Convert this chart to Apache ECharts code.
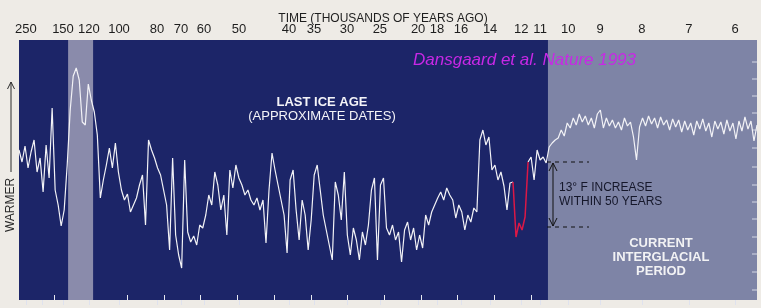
<!DOCTYPE html>
<html><head><meta charset="utf-8">
<script src="https://cdn.jsdelivr.net/npm/echarts@6/dist/echarts.min.js"></script>
<style>html,body{margin:0;padding:0;background:#eeebe6;}#c{width:761px;height:308px;}</style>
</head><body><div id="c"></div>
<script>
// relative warmth index along the ice core (one sample per core segment)
const warmth = [
150,138,154,132,148,160,128,142,108,155,122,192,
110,95,74,90,135,190,224,232,220,178,175,216,
200,188,165,102,120,135,152,132,157,128,110,100,
106,88,95,102,115,125,75,160,150,142,132,125,
110,95,50,142,65,45,32,140,68,58,64,55,
75,72,85,105,95,128,115,90,105,65,130,112,
135,122,115,105,110,100,95,102,90,100,57,110,
147,130,115,100,85,47,120,130,90,60,100,85,
50,80,125,135,110,85,70,55,40,118,105,80,
128,65,45,72,60,40,68,55,75,110,122,40,
115,122,72,65,75,60,68,38,70,78,60,72,
50,65,52,85,75,88,95,102,108,100,112,105,
100,82,95,88,70,85,78,92,88,160,170,155,
163,130,135,120,128,114,90,117,118,63,77,70,
83,138,143,120,150,140,143,137,153,157,160,162,
170,164,177,172,182,175,186,178,184,175,182,172,
186,190,172,182,174,180,172,178,170,182,174,178,
163,140,173,182,174,184,176,182,172,183,175,180,
170,181,173,180,168,179,170,177,165,179,171,181,
169,177,163,179,171,178,166,180,169,177,161,179,
169,183,171,179,159,175
];
// abrupt warming segment (highlighted in red): first and last sample index
const abruptSegment = [164, 169];
// time tick labels (thousands of years ago) and the core sample where each falls
const tickAges = ['250','','150','120','100','80','70','60','50','40','35','30','25','20','18','16','14','12','11','10','9','8','7','6'];
const tickAt = [2.3,7.6,14.6,23.2,33.2,45.8,53.8,61.4,73.0,89.6,97.9,108.9,119.8,132.5,138.8,146.7,156.4,166.7,173.0,182.3,192.9,206.8,222.4,237.7];
// periods in core sample units
const eemianBand = [16.3, 24.6];
const holoceneStart = 175.6;
// warmth levels of the right-hand scale ticks
const rightTicks = [10, 28, 46, 63, 81, 98, 115, 133, 152, 170, 187, 204, 221, 238];

const N = warmth.length;
const FONT = '"Liberation Sans", Arial, Helvetica, sans-serif';
const labelMap = {};
tickAt.forEach((v, i) => { labelMap[v] = tickAges[i]; });
const bottomTicks = [];
for (let k = 0; k < 19; k++) bottomTicks.push(11.6 + k * 12.18);

const whiteData = warmth.map((v, i) => (i > abruptSegment[0] && i < abruptSegment[1]) ? [i, '-'] : [i, v]);
const redData = [];
for (let i = abruptSegment[0]; i <= abruptSegment[1]; i++) redData.push([i, warmth[i]]);

function txt(x, y, text, font, fill, align, extra) {
  return Object.assign({type: 'text', x: x, y: y, z: 100, zlevel: 3,
    style: {text: text, font: font, fill: fill, textAlign: align || 'center', textVerticalAlign: 'middle'}}, extra || {});
}
const ink = '#2a2a2a';
const paper = '#eeebe6';
const chart = echarts.init(document.getElementById('c'), null, {renderer: 'canvas'});
chart.setOption({
  animation: false,
  backgroundColor: paper,
  grid: {left: 19, right: 4, top: 40, bottom: 8, show: true, backgroundColor: '#1c2568', borderWidth: 0},
  xAxis: [
    {type: 'value', position: 'top', min: 0, max: N - 1,
     axisLine: {show: false}, splitLine: {show: false},
     axisTick: {show: true, inside: true, length: 5, customValues: tickAt, lineStyle: {color: '#dfe2ee', width: 1}},
     axisLabel: {show: true, customValues: tickAt, margin: 4, color: '#1e1e1e', fontSize: 13, fontFamily: FONT,
       formatter: (v) => labelMap[v] !== undefined ? labelMap[v] : ''}},
    {type: 'value', position: 'bottom', min: 0, max: N - 1,
     axisLine: {show: false}, splitLine: {show: false}, axisLabel: {show: false},
     axisTick: {show: true, inside: true, length: 5, customValues: bottomTicks, lineStyle: {color: '#e6e8f0', width: 1}}}
  ],
  yAxis: [
    {type: 'value', min: 0, max: 260, show: false,
     axisLine: {show: false}, splitLine: {show: false}, axisLabel: {show: false}, axisTick: {show: false}}
  ],
  series: [
    {type: 'line', xAxisIndex: 0, yAxisIndex: 0, data: [], z: 1, silent: true,
     markArea: {silent: true, data: [
       [{xAxis: eemianBand[0], itemStyle: {color: '#8a8bab'}}, {xAxis: eemianBand[1]}],
       [{xAxis: holoceneStart, itemStyle: {color: '#7e84a6'}}, {xAxis: N - 1}]
     ]}},
    {type: 'custom', xAxisIndex: 0, yAxisIndex: 0, z: 4, silent: true,
     data: rightTicks.map(v => [N - 1, v]),
     renderItem: (params, api) => {
       const p = api.coord([api.value(0), api.value(1)]);
       return {type: 'line', shape: {x1: p[0] - 5, y1: p[1], x2: p[0], y2: p[1]}, style: {stroke: '#d4d7e4', lineWidth: 1}};
     }},
    {type: 'line', xAxisIndex: 0, yAxisIndex: 0, data: whiteData, z: 5, showSymbol: false, connectNulls: false,
     lineStyle: {color: '#f2f2f6', width: 1.2}},
    {type: 'line', xAxisIndex: 0, yAxisIndex: 0, data: redData, z: 6, showSymbol: false,
     lineStyle: {color: '#dc1846', width: 1.5}}
  ],
  graphic: [
    {type: 'rect', z: 0, zlevel: 2, silent: true, shape: {x: 0, y: 36, width: 19, height: 272}, style: {fill: paper}},
    txt(383, 18.5, 'TIME (THOUSANDS OF YEARS AGO)', '12px ' + FONT, '#1e1e1e'),
    txt(413, 60, 'Dansgaard et al. Nature 1993', 'italic 17px ' + FONT, '#c828e6', 'left'),
    txt(322, 102, 'LAST ICE AGE', 'bold 13px ' + FONT, '#f4f4f8'),
    txt(322, 116, '(APPROXIMATE DATES)', '13px ' + FONT, '#f4f4f8'),
    txt(559, 188, '13° F INCREASE', '12px ' + FONT, '#15172a', 'left'),
    txt(559, 202, 'WITHIN 50 YEARS', '12px ' + FONT, '#15172a', 'left'),
    txt(661, 243, 'CURRENT', 'bold 13px ' + FONT, '#f2f2f4'),
    txt(661, 257, 'INTERGLACIAL', 'bold 13px ' + FONT, '#f2f2f4'),
    txt(661, 271, 'PERIOD', 'bold 13px ' + FONT, '#f2f2f4'),
    txt(11, 205, 'WARMER', '12px ' + FONT, ink, 'center', {rotation: Math.PI / 2}),
    {type: 'line', z: 100, zlevel: 3, shape: {x1: 11, y1: 82, x2: 11, y2: 172}, style: {stroke: ink, lineWidth: 1}},
    {type: 'polyline', z: 100, zlevel: 3, shape: {points: [[7.5, 89], [11, 82], [14.5, 89]]}, style: {stroke: ink, lineWidth: 1, fill: null}},
    {type: 'line', z: 100, zlevel: 3, shape: {x1: 553, y1: 163, x2: 553, y2: 226}, style: {stroke: '#111', lineWidth: 1}},
    {type: 'polyline', z: 100, zlevel: 3, shape: {points: [[549, 171], [553, 163], [557, 171]]}, style: {stroke: '#111', lineWidth: 1, fill: null}},
    {type: 'polyline', z: 100, zlevel: 3, shape: {points: [[549, 218], [553, 226], [557, 218]]}, style: {stroke: '#111', lineWidth: 1, fill: null}},
    {type: 'line', z: 100, zlevel: 3, shape: {x1: 547, y1: 162, x2: 589, y2: 162}, style: {stroke: '#111', lineWidth: 1, lineDash: [4, 4]}},
    {type: 'line', z: 100, zlevel: 3, shape: {x1: 547, y1: 227, x2: 589, y2: 227}, style: {stroke: '#111', lineWidth: 1, lineDash: [4, 4]}}
  ]
});
</script>
</body></html>
